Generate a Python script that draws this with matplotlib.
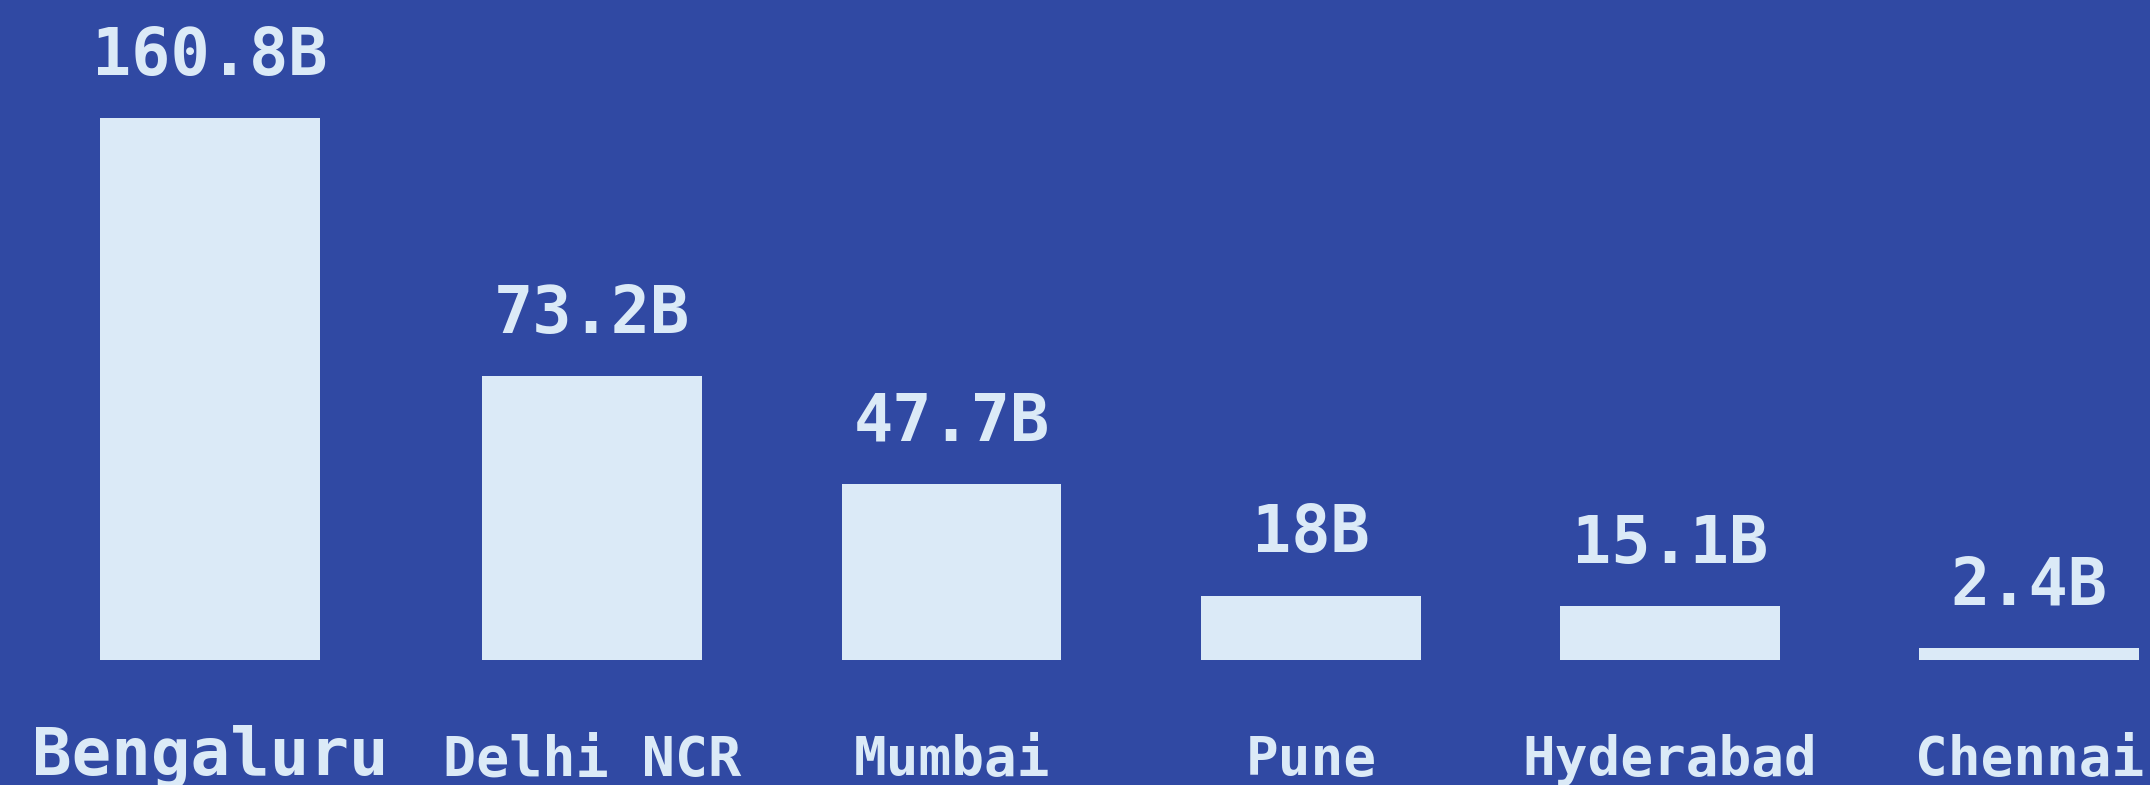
import numpy as np
import matplotlib.pyplot as plt

# Datos: ciudades, altura de barra y etiqueta mostrada
cities = ['Bengaluru', 'Delhi NCR', 'Mumbai', 'Pune', 'Hyderabad', 'Chennai']
bar_values = [160.8, 84.2, 52.2, 19.1, 15.9, 3.6]
value_labels = ['160.8B', '73.2B', '47.7B', '18B', '15.1B', '2.4B']
label_sizes = [47.3, 39.6, 39.2, 39.2, 39.2, 39.2]

bg_color = '#3049a3'
fg_color = '#dbeaf7'

plt.rcParams['font.family'] = 'DejaVu Sans Mono'
plt.rcParams['font.weight'] = 'bold'

fig = plt.figure(figsize=(21.5, 7.851), dpi=100, facecolor=bg_color)
ax = fig.add_axes([0, 10 / 785, 1, 775 / 785])
ax.set_facecolor(bg_color)

# Posiciones de las barras (la primera algo desplazada a la izquierda)
x = np.arange(len(cities), dtype=float)
x[0] -= 0.064

bars = ax.bar(x, bar_values, width=0.612, color=fg_color)

# Etiquetas de valor encima de cada barra
for rect, text in zip(bars, value_labels):
    ax.annotate(text, (rect.get_x() + rect.get_width() / 2, rect.get_height()),
                xytext=(0, 31.5), textcoords='offset points',
                ha='center', va='baseline', fontsize=47, color=fg_color,
                fontweight='bold')

# Nombres de las ciudades como etiquetas del eje x
ax.set_xticks(x)
ax.set_xticklabels(cities)
ax.tick_params(axis='x', length=0, pad=0, colors=fg_color)
for lbl, size in zip(ax.get_xticklabels(), label_sizes):
    lbl.set_fontsize(size)
    lbl.set_verticalalignment('baseline')
    lbl.set_fontweight('bold')

ax.set_yticks([])
for spine in ax.spines.values():
    spine.set_visible(False)

ax.set_xlim(-0.6485, 5.336)
ax.set_ylim(-34.14, 195.9)

plt.savefig('out.png', dpi=100, facecolor=bg_color)
